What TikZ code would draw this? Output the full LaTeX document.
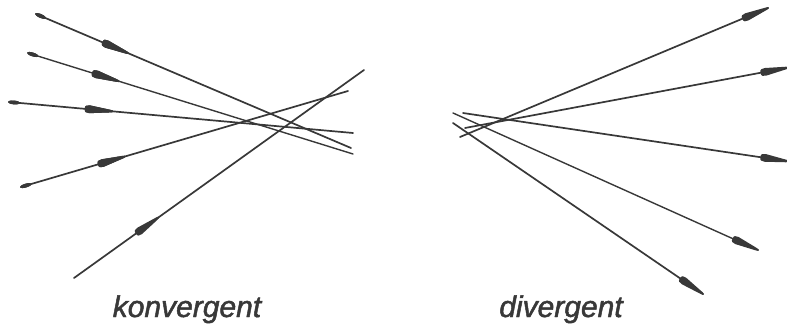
\documentclass[tikz,border=0pt]{standalone}
\usepackage{fontspec}
\setmainfont[ItalicFeatures={FakeBold=1.6}]{Liberation Sans}
\usetikzlibrary{decorations.markings}
\definecolor{ink}{HTML}{383838}
\tikzset{
  ray/.style={draw=ink, line width=1.7pt, line cap=round},
  fletch/.style={postaction={decorate}, decoration={markings,
    mark=at position #1 with {\fill[ink] (-15pt,0pt) .. controls (-15pt,3.6pt) and (-13pt,3.9pt) .. (-10pt,3.9pt)
       -- (11pt,1.3pt) .. controls (15pt,1pt) and (15pt,-1pt) .. (11pt,-1.3pt)
       -- (-10pt,-3.9pt) .. controls (-13pt,-3.9pt) and (-15pt,-3.6pt) .. (-15pt,0pt) -- cycle;}}},
  blob/.style={postaction={decorate}, decoration={markings,
    mark=at position 5pt with {\fill[ink] (0pt,0pt) ellipse [x radius=6pt, y radius=1.9pt];}}},
  lbl/.style={text=ink, font=\fontsize{30}{30}\selectfont\itshape, anchor=base}
}
\begin{document}
\begin{tikzpicture}[x=1pt,y=-1pt]
\useasboundingbox (0,0) rectangle (787,329);
% konvergent
\coordinate (a1) at (36,14);   \coordinate (b1) at (351,148);
\coordinate (a2) at (28,53);   \coordinate (b2) at (353,154);
\coordinate (a3) at (9,102);   \coordinate (b3) at (353,133);
\coordinate (a4) at (21,187);  \coordinate (b4) at (348,91);
\coordinate (a5) at (74,278);  \coordinate (b5) at (364,70);
\draw[ray, fletch=87pt, blob] (a1) -- (b1);
\draw[ray, line width=1.4pt, fletch=82pt, blob] (a2) -- (b2);
\draw[ray, fletch=91pt, blob] (a3) -- (b3);
\draw[ray, fletch=95pt, blob] (a4) -- (b4);
\draw[ray, fletch=91pt] (a5) -- (b5);
\node[lbl] (konv) at (187,317) {konvergent};
% divergent
\coordinate (c1) at (460,137); \coordinate (d1) at (768,8);
\coordinate (c2) at (465,128); \coordinate (d2) at (786,68);
\coordinate (c3) at (463,113); \coordinate (d3) at (786,161);
\coordinate (c4) at (453,113); \coordinate (d4) at (758,250);
\coordinate (c5) at (453,123); \coordinate (d5) at (703,294);
\draw[ray, fletch=-13pt] (c1) -- (d1);
\draw[ray, fletch=-11pt] (c2) -- (d2);
\draw[ray, fletch=-11pt] (c3) -- (d3);
\draw[ray, line width=1.4pt, fletch=-13pt] (c4) -- (d4);
\draw[ray, fletch=-13pt] (c5) -- (d5);
\node[lbl] (div) at (561,317) {divergent};
\end{tikzpicture}
\end{document}
